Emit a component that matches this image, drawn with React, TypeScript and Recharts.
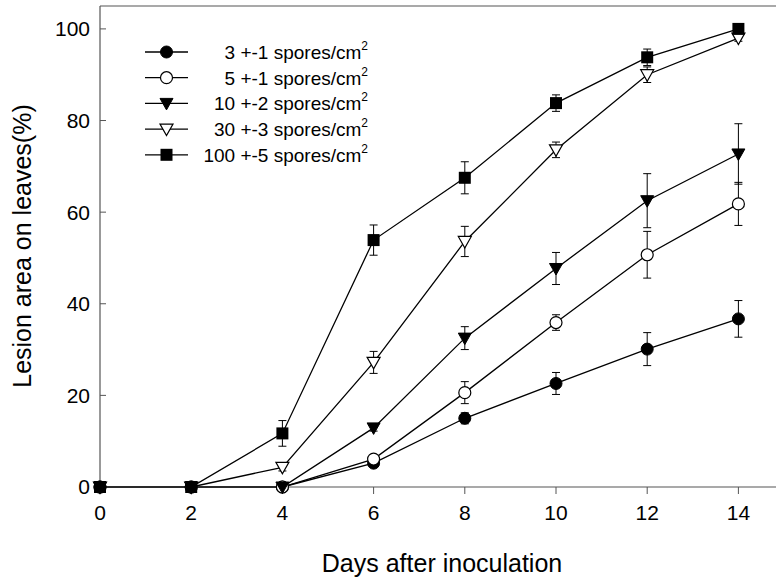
import React from "react";
import { LineChart, Line, XAxis, YAxis, ErrorBar, ReferenceLine } from "recharts";

// days after inoculation
const DAYS = [0, 2, 4, 6, 8, 10, 12, 14];

// lesion area (%) per spore density
const S3 = [0, 0, 0, 5.2, 15.0, 22.6, 30.1, 36.7];
const S3_ERR = [0, 0, 0, 0.6, 1.2, 2.4, 3.6, 4.0];
const S5 = [0, 0, 0, 6.1, 20.6, 35.9, 50.7, 61.8];
const S5_ERR = [0, 0, 0, 0.6, 2.4, 1.7, 5.1, 4.7];
const S10 = [0, 0, 0, 12.9, 32.5, 47.7, 62.5, 72.7];
const S10_ERR = [0, 0, 0, 0.7, 2.5, 3.5, 5.9, 6.6];
const S30 = [0, 0, 4.3, 27.2, 53.6, 73.6, 90.0, 98.0];
const S30_ERR = [0, 0, 0.8, 2.4, 3.3, 1.7, 1.7, 0.7];
const S100 = [0, 0, 11.7, 53.9, 67.5, 83.8, 93.8, 100];
const S100_ERR = [0, 0, 2.8, 3.3, 3.5, 1.8, 1.8, 0];

const Y_TICKS = [0, 20, 40, 60, 80, 100];

type Kind = "dot" | "ring" | "tri" | "triOpen" | "square";

const SERIES: { key: string; label: string; kind: Kind; values: number[]; err: number[] }[] = [
  { key: "s3", label: "3 +-1 spores/cm", kind: "dot", values: S3, err: S3_ERR },
  { key: "s5", label: "5 +-1 spores/cm", kind: "ring", values: S5, err: S5_ERR },
  { key: "s10", label: "10 +-2 spores/cm", kind: "tri", values: S10, err: S10_ERR },
  { key: "s30", label: "30 +-3 spores/cm", kind: "triOpen", values: S30, err: S30_ERR },
  { key: "s100", label: "100 +-5 spores/cm", kind: "square", values: S100, err: S100_ERR },
];

const data = DAYS.map((day, i) => {
  const row: Record<string, number> = { day };
  SERIES.forEach(s => {
    row[s.key] = s.values[i];
    row[s.key + "Err"] = s.err[i];
  });
  return row;
});

const FONT = "'Liberation Sans', Arial, Helvetica, sans-serif";
const AXIS = "#555";

function Marker({ cx, cy, kind }: { cx: number; cy: number; kind: Kind }) {
  if (cx == null || cy == null) return null;
  switch (kind) {
    case "dot":
      return <circle cx={cx} cy={cy} r={6} fill="#000" stroke="#000" strokeWidth={1} />;
    case "ring":
      return <circle cx={cx} cy={cy} r={6} fill="#fff" stroke="#000" strokeWidth={1.2} />;
    case "tri":
      return <path d={`M${cx - 6.5},${cy - 5} L${cx + 6.5},${cy - 5} L${cx},${cy + 6.5} Z`} fill="#000" stroke="#000" />;
    case "triOpen":
      return <path d={`M${cx - 6.5},${cy - 5} L${cx + 6.5},${cy - 5} L${cx},${cy + 6.5} Z`} fill="#fff" stroke="#000" strokeWidth={1.2} />;
    case "square":
      return <rect x={cx - 6} y={cy - 6} width={12} height={12} fill="#000" />;
  }
  return null;
}

// legend block drawn the SigmaPlot way: line + marker, right-aligned text
function LegendBox() {
  return (
    <svg width={400} height={180} style={{ position: "absolute", left: 0, top: 0, overflow: "visible" }}>
      {SERIES.map((s, i) => {
        const y = 52 + i * 25.7;
        return (
          <g key={s.key}>
            <line x1={145} x2={188} y1={y} y2={y} stroke="#000" strokeWidth={1.3} />
            <Marker cx={166.5} cy={y} kind={s.kind} />
            <text x={368} y={y + 7} textAnchor="end" fontFamily={FONT} fontSize={19} fill="#000">
              {s.label}
              <tspan dy={-9} fontSize={12}>2</tspan>
            </text>
          </g>
        );
      })}
    </svg>
  );
}

export default function App() {
  return (
    <div style={{ position: "absolute", left: 0, top: 0, width: 776, height: 581, overflow: "hidden", background: "#fff" }}>
      <LineChart width={800} height={581} data={data} margin={{ top: 6, right: 16, bottom: 0, left: 0 }}>
        <XAxis
          dataKey="day"
          type="number"
          domain={[0, 15]}
          ticks={DAYS}
          height={94}
          tickSize={7}
          tickMargin={11}
          axisLine={{ stroke: AXIS, strokeWidth: 1.2 }}
          tickLine={{ stroke: AXIS }}
          tick={{ fill: "#000", fontSize: 21, fontFamily: FONT }}
          label={{
            value: "Days after inoculation",
            content: () => (
              <text x={442} y={572} textAnchor="middle" fontFamily={FONT} fontSize={25} fill="#000">
                Days after inoculation
              </text>
            ),
          }}
        />
        <YAxis
          type="number"
          domain={[0, 105]}
          ticks={Y_TICKS}
          width={100}
          tickSize={-6}
          tickMargin={16}
          axisLine={{ stroke: AXIS, strokeWidth: 1.2 }}
          tickLine={{ stroke: AXIS }}
          tick={{ fill: "#000", fontSize: 21, fontFamily: FONT }}
          label={{
            value: "Lesion area on leaves(%)",
            content: () => (
              <text
                x={31}
                y={246}
                transform="rotate(-90 31 246)"
                textAnchor="middle"
                fontFamily={FONT}
                fontSize={25}
                fill="#000"
              >
                Lesion area on leaves(%)
              </text>
            ),
          }}
        />
        <ReferenceLine y={105} stroke={AXIS} strokeWidth={1.2} />
        {SERIES.map(s => (
          <Line
            key={s.key}
            type="linear"
            dataKey={s.key}
            name={s.label}
            stroke="#000"
            strokeWidth={1.3}
            isAnimationActive={false}
            dot={(p: any) => <Marker key={`${s.key}-${p.index}`} cx={p.cx} cy={p.cy} kind={s.kind} />}
            activeDot={false}
          >
            <ErrorBar dataKey={s.key + "Err"} width={4} stroke="#000" strokeWidth={1} direction="y" />
          </Line>
        ))}
      </LineChart>
      <LegendBox />
    </div>
  );
}
